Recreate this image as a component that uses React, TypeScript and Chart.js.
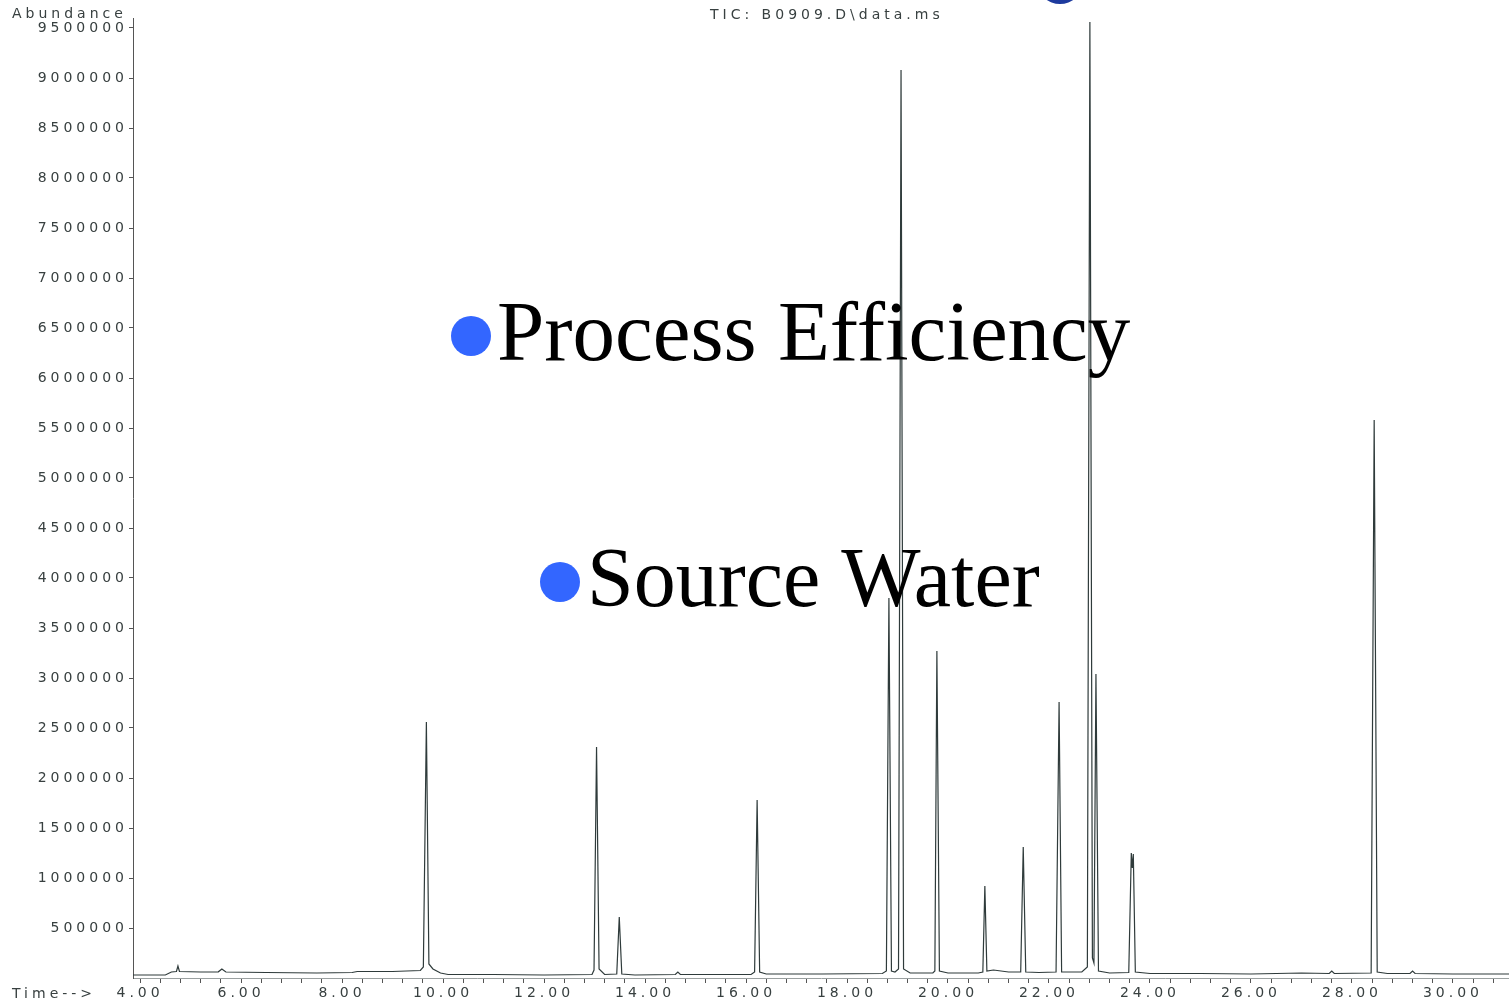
import React, { useEffect, useRef } from "react";
import { Chart, registerables } from "chart.js";

Chart.register(...registerables);

// Retention time (min) of each sampled point of the TIC trace
const retentionTimes = [
  3.86, 4.5, 4.62, 4.72, 4.75, 4.78, 5.2, 5.55, 5.62, 5.7, 6.5, 7.5, 8.2, 8.3, 9.0,
  9.55, 9.61, 9.67, 9.72, 9.8, 9.95, 10.1, 11.0, 12.0, 12.95, 12.99, 13.04, 13.09,
  13.2, 13.44, 13.49, 13.54, 13.8, 14.6, 14.65, 14.7, 16.1, 16.17, 16.22, 16.27,
  16.4, 17.5, 18.7, 18.78, 18.83, 18.88, 18.95, 19.02, 19.07, 19.12, 19.25, 19.7,
  19.74, 19.78, 19.83, 20.0, 20.6, 20.69, 20.73, 20.77, 20.9, 21.2, 21.44, 21.49,
  21.54, 21.8, 22.14, 22.2, 22.25, 22.65, 22.76, 22.81, 22.86, 22.89, 22.93, 22.98,
  23.2, 23.58, 23.63, 23.65, 23.67, 23.71, 24.0, 25.0, 26.0, 27.0, 27.55, 27.6,
  27.65, 28.38, 28.44, 28.5, 28.7, 29.15, 29.2, 29.25, 30.0, 31.11,
];

// Abundance at each of those retention times
const abundances = [
  30000, 30000, 60000, 65000, 120000, 65000, 60000, 62000, 90000, 60000, 55000, 50000, 55000, 65000, 65000,
  75000, 110000, 2560000, 140000, 90000, 50000, 35000, 35000, 30000, 35000, 80000, 2310000, 90000,
  35000, 40000, 610000, 40000, 30000, 35000, 60000, 35000, 35000, 60000, 1780000, 60000,
  40000, 40000, 45000, 70000, 3800000, 70000, 60000, 90000, 9080000, 90000, 50000, 50000,
  70000, 3270000, 70000, 50000, 50000, 60000, 920000, 70000, 80000, 60000, 60000, 1310000,
  60000, 55000, 60000, 2760000, 60000, 60000, 110000, 9560000, 200000, 150000, 3040000, 70000,
  50000, 55000, 1250000, 1100000, 1240000, 60000, 45000, 45000, 40000, 50000, 45000, 70000,
  45000, 50000, 5580000, 60000, 45000, 45000, 70000, 45000, 40000, 40000,
];

// Labelled abundance ticks
const yTickValues = [
  500000, 1000000, 1500000, 2000000, 2500000, 3000000, 3500000, 4000000, 4500000, 5000000,
  5500000, 6000000, 6500000, 7000000, 7500000, 8000000, 8500000, 9000000, 9500000,
];

const xMin = 3.86;
const xMax = 31.11;
const yMax = 9600000;
const xTickStep = 0.4;
const xLabelEvery = 2;

const chartTitle = "TIC: B0909.D\\data.ms";
const yAxisTitle = "Abundance";
const xAxisTitle = "Time-->";
const bulletLines = ["Process Efficiency", "Source Water"];

const axisFont = '"DejaVu Sans", "Liberation Sans", Arial, sans-serif';
const axisColor = "#384040";

export default function App() {
  const ref = useRef<HTMLCanvasElement>(null);

  useEffect(() => {
    const canvas = ref.current;
    if (!canvas) return;

    const overlay = {
      id: "overlay",
      beforeDraw(chart: any) {
        (chart.ctx as any).letterSpacing = "4px";
      },
      afterDraw(chart: any) {
        const ctx = chart.ctx as any;
        ctx.save();
        ctx.letterSpacing = "4px";
        ctx.fillStyle = axisColor;
        ctx.font = "14px " + axisFont;
        ctx.textAlign = "left";
        ctx.textBaseline = "alphabetic";
        ctx.fillText(yAxisTitle, 12, 18);
        ctx.fillText(chartTitle, 710, 19);
        ctx.fillText(xAxisTitle, 12, 998);

        ctx.letterSpacing = "0px";
        // partial dark blue shape at the top edge
        ctx.fillStyle = "#1d3a9e";
        ctx.beginPath();
        ctx.ellipse(1060, -16, 22, 20, 0, 0, Math.PI * 2);
        ctx.fill();

        // bullets
        ctx.fillStyle = "#3366ff";
        ctx.beginPath();
        ctx.arc(471, 336, 20, 0, Math.PI * 2);
        ctx.fill();
        ctx.beginPath();
        ctx.arc(560, 582, 20, 0, Math.PI * 2);
        ctx.fill();

        ctx.fillStyle = "#000000";
        ctx.font = '85px "Liberation Serif", "Times New Roman", serif';
        ctx.fillText(bulletLines[0], 497, 360);
        ctx.font = '84px "Liberation Serif", "Times New Roman", serif';
        ctx.fillText(bulletLines[1], 587, 606);
        ctx.restore();
      },
    };

    const chart = new Chart(canvas, {
      type: "line",
      data: {
        datasets: [
          {
            label: "TIC",
            data: retentionTimes.map((t, i) => ({ x: t, y: abundances[i] })),
            borderColor: "#2f3b3b",
            borderWidth: 1.2,
            pointRadius: 0,
            tension: 0,
            fill: false,
          },
        ],
      },
      options: {
        responsive: false,
        animation: false,
        devicePixelRatio: 1,
        layout: { padding: { top: 18, left: 0, right: 0, bottom: 0 } },
        plugins: {
          legend: { display: false },
          title: { display: false },
          tooltip: { enabled: false },
        },
        scales: {
          x: {
            type: "linear",
            min: xMin,
            max: xMax,
            afterFit: (scale: any) => {
              scale.height = 25;
            },
            border: { display: true, color: "#9aa0a0", width: 1 },
            grid: {
              drawOnChartArea: false,
              drawTicks: true,
              tickLength: 5,
              color: "#555",
            },
            ticks: {
              stepSize: xTickStep,
              includeBounds: false,
              autoSkip: false,
              maxRotation: 0,
              minRotation: 0,
              maxTicksLimit: 200,
              padding: 2,
              color: axisColor,
              font: { family: axisFont, size: 14 },
              callback: (v: any) => {
                const n = Number(v);
                const r = n / xLabelEvery;
                return Math.abs(r - Math.round(r)) < 1e-6 ? n.toFixed(2) : "";
              },
            },
          },
          y: {
            type: "linear",
            min: 0,
            max: yMax,
            afterBuildTicks: (scale: any) => {
              scale.ticks = yTickValues.map((v) => ({ value: v }));
            },
            afterFit: (scale: any) => {
              scale.width = 133;
            },
            border: { display: true, color: "#555", width: 1 },
            grid: {
              drawOnChartArea: false,
              drawTicks: true,
              tickLength: 4,
              color: "#555",
            },
            ticks: {
              autoSkip: false,
              padding: 1,
              color: axisColor,
              font: { family: axisFont, size: 14 },
              callback: (v: any) => String(Math.round(Number(v))),
            },
          },
        },
      },
      plugins: [overlay],
    });

    return () => chart.destroy();
  }, []);

  return (
    <div style={{ position: "absolute", left: 0, top: 0, width: 1509, height: 1003, background: "#fff" }}>
      <canvas ref={ref} width={1509} height={1003} style={{ display: "block", width: 1509, height: 1003 }} />
    </div>
  );
}
